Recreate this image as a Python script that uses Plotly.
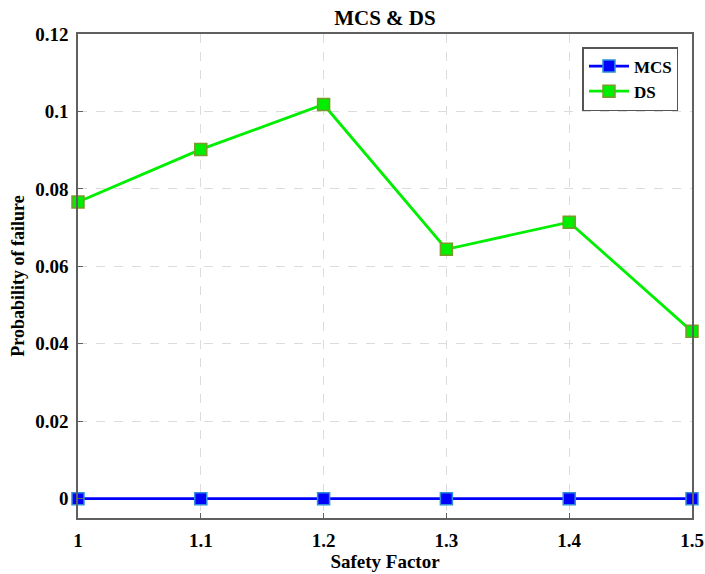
import plotly.graph_objects as go

safety_factor = [1.0, 1.1, 1.2, 1.3, 1.4, 1.5]
mcs_values = [0, 0, 0, 0, 0, 0]
ds_values = [0.0766, 0.0902, 0.1018, 0.0644, 0.0714, 0.0432]

font_family = "Liberation Serif"

fig = go.Figure()
fig.add_trace(go.Scatter(
    x=safety_factor, y=mcs_values, mode="lines+markers", name="<b>MCS</b>",
    line=dict(color="#0000ff", width=2.8),
    marker=dict(symbol="square", size=12, color="#0000ff",
                line=dict(color="#2f8fd8", width=1.5)),
    cliponaxis=False,
))
fig.add_trace(go.Scatter(
    x=safety_factor, y=ds_values, mode="lines+markers", name="<b>DS</b>",
    line=dict(color="#00ee00", width=2.8),
    marker=dict(symbol="square", size=12, color="#00ee00",
                line=dict(color="#7a9a2a", width=1.5)),
    cliponaxis=False,
))

axis_common = dict(
    showline=True, linecolor="#606060", linewidth=1.5, mirror=True,
    ticks="inside", ticklen=5, tickcolor="#606060",
    showgrid=True, gridcolor="#dcdcdc", griddash="dash", gridwidth=1,
    zeroline=False, automargin=False,
    tickfont=dict(family=font_family, size=19, color="black"),
)

fig.update_layout(
    width=705, height=574,
    margin=dict(l=78, r=13, t=34, b=56),
    paper_bgcolor="white", plot_bgcolor="white",
    title=dict(text="<b>MCS & DS</b>", x=0.546, xanchor="center", y=0.97, yanchor="middle",
               font=dict(family=font_family, size=21, color="black")),
    xaxis=dict(range=[1, 1.5], tickvals=safety_factor,
               ticktext=["<b>1</b>", "<b>1.1</b>", "<b>1.2</b>", "<b>1.3</b>", "<b>1.4</b>", "<b>1.5</b>"],
               ticklabelstandoff=4,
               title=dict(text="<b>Safety Factor</b>", standoff=4,
                          font=dict(family=font_family, size=19, color="black")),
               **axis_common),
    yaxis=dict(range=[-0.005, 0.12],
               tickvals=[0, 0.02, 0.04, 0.06, 0.08, 0.1, 0.12],
               ticktext=["<b>0</b>", "<b>0.02</b>", "<b>0.04</b>", "<b>0.06</b>", "<b>0.08</b>", "<b>0.1</b>", "<b>0.12</b>"],
               ticklabelstandoff=4,
               title=dict(text="<b>Probability of failure</b>", standoff=6,
                          font=dict(family=font_family, size=18, color="black")),
               **axis_common),
    legend=dict(x=0.978, y=0.973, xanchor="right", yanchor="top",
                bordercolor="#555555", borderwidth=1.5, bgcolor="white",
                font=dict(family=font_family, size=17, color="black"),
                itemwidth=40, tracegroupgap=0),
)

fig.write_html("out.html")
